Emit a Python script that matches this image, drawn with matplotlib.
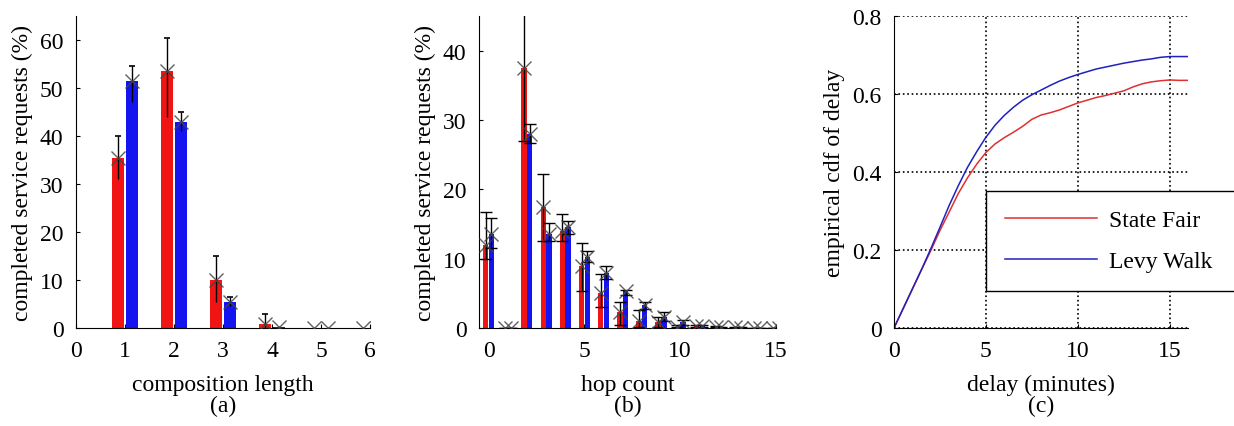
import numpy as np
import matplotlib
matplotlib.use('Agg')
from matplotlib import pyplot as plt

plt.rcParams['font.family'] = ['Liberation Serif', 'DejaVu Serif']
plt.rcParams['font.size'] = 17

# (a) composition length
comp_len = [1, 2, 3, 4, 5, 6]
red_a = [35.5, 53.5, 10.0, 0.8, 0, 0]
red_a_lo = [31.0, 44.0, 5.5, 0, 0, 0]
red_a_hi = [40.0, 60.5, 15.0, 3.0, 0, 0]
blue_a = [51.5, 43.0, 5.5, 0.2, 0, 0]
blue_a_lo = [47.0, 41.0, 4.5, 0.2, 0, 0]
blue_a_hi = [54.5, 45.0, 6.5, 0.2, 0, 0]

# (b) hop count
hops = [0, 1, 2, 3, 4, 5, 6, 7, 8, 9, 10, 11, 12, 13, 14, 15]
red_b = [12.0, 0, 37.5, 17.5, 14.0, 9.0, 5.0, 2.3, 1.0, 0.8, 0.2, 0.3, 0.2, 0.1, 0, 0]
red_b_lo = [10.0, 0, 27.0, 12.5, 12.5, 5.4, 3.0, 0.5, 0.2, 0.2, 0.1, 0.1, 0.1, 0.05, 0, 0]
red_b_hi = [16.8, 0, 48.0, 22.2, 16.5, 12.3, 7.8, 3.7, 2.6, 1.6, 0.4, 0.5, 0.3, 0.15, 0, 0]
blue_b = [13.5, 0, 28.0, 13.5, 14.5, 10.3, 8.0, 5.3, 3.3, 1.6, 0.8, 0.3, 0.1, 0.05, 0, 0]
blue_b_lo = [11.5, 0, 26.7, 12.5, 13.5, 9.5, 7.0, 4.8, 2.8, 1.0, 0.4, 0.1, 0.05, 0.0, 0, 0]
blue_b_hi = [15.9, 0, 29.4, 15.1, 15.5, 11.1, 9.0, 5.5, 3.8, 2.3, 1.2, 0.5, 0.2, 0.1, 0, 0]

# (c) empirical cdf of delay
delay = [0, 0.5, 1, 1.5, 2, 2.5, 3, 3.5, 4, 4.5, 5, 5.5, 6, 6.5, 7, 7.5, 8,
         8.5, 9, 9.5, 10, 10.5, 11, 11.5, 12, 12.5, 13, 13.5, 14, 14.5, 15, 15.5, 16]
cdf_fair = [0, 0.05, 0.10, 0.15, 0.198, 0.25, 0.297, 0.345, 0.385, 0.42, 0.45,
            0.472, 0.488, 0.502, 0.517, 0.535, 0.546, 0.552, 0.559, 0.568, 0.577,
            0.584, 0.591, 0.596, 0.602, 0.608, 0.618, 0.626, 0.631, 0.634, 0.636,
            0.635, 0.635]
cdf_levy = [0, 0.05, 0.10, 0.15, 0.203, 0.258, 0.314, 0.365, 0.412, 0.452, 0.489,
            0.52, 0.545, 0.566, 0.584, 0.598, 0.610, 0.622, 0.633, 0.642, 0.650,
            0.657, 0.664, 0.669, 0.674, 0.679, 0.683, 0.687, 0.690, 0.694, 0.696,
            0.696, 0.696]

RED = '#f01414'
BLUE = '#1414f0'

fig = plt.figure(figsize=(12.34, 4.27), dpi=100)
W, H = 1234.0, 427.0


def make_axes(x0, x1):
    return fig.add_axes([x0 / W, 1 - 329 / H, (x1 - x0) / W, (329 - 17) / H])


def style(ax):
    ax.spines['top'].set_visible(False)
    ax.spines['right'].set_visible(False)
    ax.tick_params(direction='in', length=3, pad=9)


def bars(ax, x, r, rlo, rhi, b, blo, bhi, off, width, both_caps):
    x = np.array(x, dtype=float)
    for xs, v, lo, hi, col in [(x - off, r, rlo, rhi, RED), (x + off, b, blo, bhi, BLUE)]:
        v, lo, hi = np.array(v), np.array(lo), np.array(hi)
        ax.bar(xs, v, width, color=col, zorder=2)
        if both_caps:
            ax.errorbar(xs, v, yerr=[v - lo, hi - v], fmt='none', ecolor='black',
                        elinewidth=1, capsize=4.5, capthick=1, zorder=3)
        else:
            ax.errorbar(xs, v, yerr=[v - lo, hi - v], fmt='none', ecolor='black',
                        elinewidth=1, capsize=0, zorder=3)
            ax.plot(xs[hi > v], hi[hi > v], ls='none', marker='_', ms=4, mew=1.2,
                    color='black', zorder=3)
        ax.plot(xs, v, ls='none', marker='x', ms=10, mew=1, color='#444444',
                alpha=0.85, zorder=4)


# (a)
ax1 = make_axes(76, 370)
bars(ax1, comp_len, red_a, red_a_lo, red_a_hi, blue_a, blue_a_lo, blue_a_hi, 0.14, 0.25, False)
ax1.set_xlim(0, 6)
ax1.set_ylim(0, 65)
ax1.set_xticks([0, 1, 2, 3, 4, 5, 6])
ax1.set_yticks([0, 10, 20, 30, 40, 50, 60])
ax1.set_xlabel('composition length', labelpad=9)
ax1.set_ylabel('completed service requests (%)', labelpad=5)
style(ax1)

# (b)
ax2 = make_axes(479, 776)
bars(ax2, hops, red_b, red_b_lo, red_b_hi, blue_b, blue_b_lo, blue_b_hi, 0.15, 0.28, True)
ax2.set_xlim(-0.5, 15)
ax2.set_ylim(0, 45)
ax2.set_xticks([0, 5, 10, 15])
ax2.set_yticks([0, 10, 20, 30, 40])
ax2.set_xlabel('hop count', labelpad=9)
ax2.set_ylabel('completed service requests (%)', labelpad=5)
style(ax2)

# (c)
ax3 = make_axes(894, 1188)
ax3.plot(delay, cdf_fair, color='#e03030', lw=1.1, label='State Fair')
ax3.plot(delay, cdf_levy, color='#2020c0', lw=1.1, label='Levy Walk')
ax3.set_xlim(0, 16)
ax3.set_ylim(0, 0.8)
ax3.set_xticks([0, 5, 10, 15])
ax3.set_yticks([0, 0.2, 0.4, 0.6, 0.8])
ax3.set_yticklabels(['0', '0.2', '0.4', '0.6', '0.8'])
ax3.grid(True, linestyle=':', color='black', linewidth=1.2)
ax3.set_xlabel('delay (minutes)', labelpad=9)
ax3.set_ylabel('empirical cdf of delay', labelpad=5)
style(ax3)
leg = ax3.legend(loc='upper left', bbox_to_anchor=(986 / W, 1 - 292 / H, 252 / W, 100 / H),
                 bbox_transform=fig.transFigure, mode='expand', fancybox=False,
                 edgecolor='black', framealpha=1, handlelength=3.9, handletextpad=0.5,
                 labelspacing=0.8, borderpad=0.8, borderaxespad=0)
leg.get_frame().set_linewidth(1.0)

for ax, lab in [(ax1, '(a)'), (ax2, '(b)'), (ax3, '(c)')]:
    pos = ax.get_position()
    fig.text(pos.x0 + pos.width * 0.5, 1 - 406 / H, lab, ha='center', va='center')

fig.savefig('out.png', dpi=100)
